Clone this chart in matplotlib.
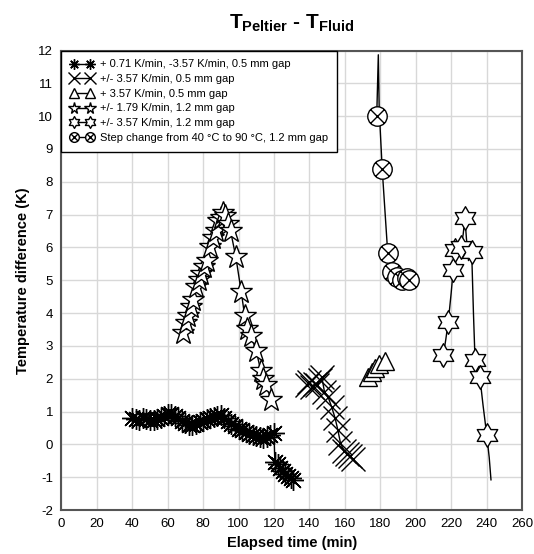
import numpy as np
import matplotlib
matplotlib.use("Agg")
import matplotlib.pyplot as plt
import matplotlib.path as mpath

plt.rcParams["font.family"] = ["Liberation Sans", "DejaVu Sans"]
plt.rcParams["mathtext.fontset"] = "custom"
plt.rcParams["mathtext.rm"] = "Liberation Sans"
plt.rcParams["mathtext.bf"] = "Liberation Sans:bold"
plt.rcParams["axes.unicode_minus"] = False

# + 0.71 K/min, -3.57 K/min, 0.5 mm gap
ast_x = [40, 42, 44, 46, 48, 50, 52, 54, 56, 58, 60, 62, 64, 66, 68, 70, 72, 74, 76, 78,
         80, 82, 84, 86, 88, 90, 92, 94, 96, 98, 100, 102, 104, 106, 108, 110, 112, 114,
         116, 118, 120, 120.5, 122, 123.5, 125, 126.5, 128, 129.5, 131]
ast_y = [0.80, 0.78, 0.75, 0.80, 0.78, 0.74, 0.75, 0.78, 0.80, 0.85, 0.92, 0.93, 0.86,
         0.80, 0.70, 0.66, 0.60, 0.60, 0.63, 0.67, 0.72, 0.76, 0.80, 0.82, 0.86, 0.88,
         0.80, 0.72, 0.62, 0.55, 0.48, 0.44, 0.38, 0.32, 0.28, 0.25, 0.22, 0.20, 0.22,
         0.28, 0.35, -0.55, -0.60, -0.72, -0.80, -0.90, -0.95, -1.02, -1.10]

# +/- 3.57 K/min, 0.5 mm gap
x_x = [138.5, 140, 141.5, 143, 144.5, 146, 147, 148.5, 150.5, 152.5, 154.5, 156, 157.5,
       159.5, 161.5, 163, 164.5]
x_y = [1.80, 1.90, 1.75, 1.85, 1.80, 1.95, 2.05, 1.60, 1.45, 1.15, 0.80, 0.45, 0.05,
       -0.20, -0.30, -0.35, -0.45]

# + 3.57 K/min, 0.5 mm gap
tri_x = [173.2, 175.5, 177.2, 179.5, 182.8]
tri_y = [2.05, 2.20, 2.32, 2.45, 2.53]

# +/- 1.79 K/min, 1.2 mm gap
st5_x = [68.7, 70.5, 71.5, 73, 74.5, 76, 77.5, 79, 80.5, 82, 84, 85.5, 87, 88.5, 90, 91,
         92.5, 94, 95.5, 98.5, 101.5, 103.5, 105, 107, 110, 112.5, 114, 115.5, 118.5]
st5_y = [3.40, 3.70, 3.90, 4.20, 4.40, 4.80, 5.00, 5.20, 5.40, 5.60, 6.00, 6.30, 6.50,
         6.80, 6.90, 7.05, 6.95, 6.70, 6.50, 5.70, 4.65, 3.90, 3.50, 3.30, 2.85, 2.25,
         2.00, 1.80, 1.35]

# +/- 3.57 K/min, 1.2 mm gap
st6_x = [215.0, 215.6, 217.0, 218.4, 220.0, 221.2, 222.2, 224.0, 225.5, 226.8, 227.8,
         228.6, 229.8, 231.6, 232.6, 233.5, 236.2, 238.0, 240.1, 241.5, 242.5]
st6_y = [2.40, 2.72, 3.20, 3.74, 4.60, 5.31, 5.92, 5.80, 6.00, 6.40, 6.89, 6.30, 5.60,
         5.87, 4.00, 2.57, 2.06, 1.20, 0.29, -0.40, -1.08]
st6_mark = [1, 3, 5, 6, 8, 10, 13, 15, 16, 18]

# Step change from 40 to 90 C, 1.2 mm gap
cx_x = [178.0, 178.9, 179.4, 181.1, 184.2, 186.4, 189.3, 192.1, 194.9, 196.5]
cx_y = [10.00, 11.87, 10.20, 8.38, 5.84, 5.26, 5.11, 5.01, 5.06, 5.00]
cx_mark = [0, 3, 4, 5, 6, 7, 8, 9]

labels = [
    "+ 0.71 K/min, -3.57 K/min, 0.5 mm gap",
    "+/- 3.57 K/min, 0.5 mm gap",
    "+ 3.57 K/min, 0.5 mm gap",
    "+/- 1.79 K/min, 1.2 mm gap",
    "+/- 3.57 K/min, 1.2 mm gap",
    "Step change from 40 \u00b0C to 90 \u00b0C, 1.2 mm gap",
]

# custom markers
six_star = mpath.Path.unit_regular_star(6, 0.577)
d = 0.707
cross = mpath.Path([(-d, -d), (d, d), (-d, d), (d, -d)],
                   [mpath.Path.MOVETO, mpath.Path.LINETO, mpath.Path.MOVETO, mpath.Path.LINETO])
circ_x = mpath.Path.make_compound_path(mpath.Path.unit_circle(), cross)

fig = plt.figure(figsize=(5.34, 5.54), dpi=100)
ax = fig.add_axes([0.115, 0.0794, 0.8625, 0.8294])

common = dict(color="black", lw=1.0, mec="black", mew=1.0)
ax.plot(ast_x, ast_y, marker=(8, 2, 0), ms=15, label=labels[0], **common)
ax.plot(x_x, x_y, marker="x", ms=17, label=labels[1], **common)
ax.plot(tri_x, tri_y, marker="^", ms=13, mfc="white", label=labels[2], **common)
ax.plot(st5_x, st5_y, marker="*", ms=17, mfc="white", label=labels[3], **common)
ax.plot(st6_x, st6_y, marker=six_star, ms=17, mfc="white", markevery=st6_mark,
        label=labels[4], **common)
ax.plot(cx_x, cx_y, marker=circ_x, ms=14, mfc="white", markevery=cx_mark,
        label=labels[5], **common)

ax.set_xlim(0, 260)
ax.set_ylim(-2, 12)
ax.set_xticks(np.arange(0, 261, 20))
ax.set_yticks(np.arange(-2, 13, 1))
ax.grid(True, color="#d8d8d8", lw=1.0)
ax.set_axisbelow(True)
ax.tick_params(length=0, labelsize=9.5, pad=6)
for s in ax.spines.values():
    s.set_color("#555555")
    s.set_linewidth(1.5)

ax.set_xlabel("Elapsed time (min)", fontsize=10.5, fontweight="bold", labelpad=4)
ax.set_ylabel("Temperature difference (K)", fontsize=10.5, fontweight="bold", labelpad=6)

fig.text(0.547, 0.958, r"$\mathbf{T_{Peltier}}$ - $\mathbf{T_{Fluid}}$",
         fontsize=15, fontweight="bold", ha="center", va="center")

leg = ax.legend(loc="upper left", fontsize=8.0, markerscale=0.5, numpoints=2,
                handlelength=2.1, handletextpad=0.6, borderaxespad=0.0,
                labelspacing=0.42, borderpad=0.8, fancybox=False, framealpha=1.0)
leg.get_frame().set_edgecolor("black")
leg.get_frame().set_linewidth(1.0)

fig.savefig("out.png", dpi=100)
